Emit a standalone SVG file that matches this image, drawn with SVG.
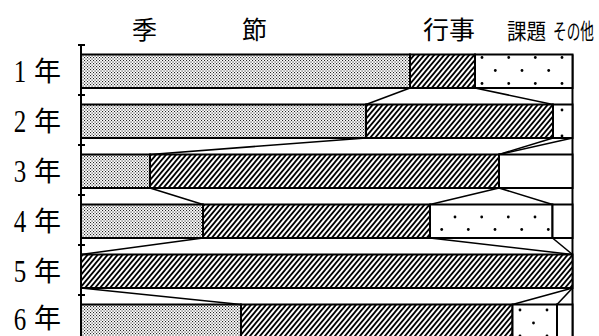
<svg xmlns="http://www.w3.org/2000/svg" width="599" height="336" viewBox="0 0 599 336">
<style>
.seg{stroke:#000;stroke-width:2}
.stip{fill:url(#stip)}
.hatch{fill:url(#hatch)}
.plain{fill:#fff}
.dot{fill:#000}
.con line{stroke:#000;stroke-width:1.6}
.axis{stroke:#000;stroke-width:2;fill:none}
.hd{font-family:"Noto Sans CJK JP",sans-serif;fill:#000}
.num{font-family:"Liberation Serif",serif;font-size:32px;text-anchor:middle;fill:#000}
.nen{font-family:"Noto Sans CJK JP",sans-serif;font-size:27px;text-anchor:middle;fill:#000}
</style>
<defs>
<pattern id="stip" width="3" height="3" patternUnits="userSpaceOnUse">
<rect width="3" height="3" fill="#fff"/>
<rect x="0" y="0" width="1.1" height="1.1" fill="#222"/>
<rect x="1.5" y="1.5" width="1.1" height="1.1" fill="#222"/>
</pattern>
<pattern id="hatch" width="5" height="6" patternUnits="userSpaceOnUse">
<rect width="5" height="6" fill="#fff"/>
<path d="M0,6 L5,0 M-1,1.2 L1,-1.2 M4,7.2 L6,4.8" stroke="#000" stroke-width="1.8"/>
</pattern>
</defs>
<rect width="599" height="336" fill="#fff"/>

<g id="headers">
<text class="hd" x="144.5" y="39" font-size="25" text-anchor="middle">季</text>
<text class="hd" x="254.5" y="39" font-size="25" text-anchor="middle">節</text>
<text class="hd" font-size="25" transform="translate(423,39) scale(1.04,1)">行事</text>
<text class="hd" font-size="22" transform="translate(507,38.5) scale(0.89,1)">課題</text>
<text class="hd" font-size="22" transform="translate(553,38.5) scale(0.62,1)">その他</text>
</g>

<g id="axis">
<line class="axis" x1="81" y1="45" x2="81" y2="338"/>
<line class="axis" x1="572.5" y1="54.5" x2="572.5" y2="338"/>
<path class="axis" d="M78,45H85M78,95H85M78,145H85M78,195H85M78,245H85M78,295H85"/>
</g>

<g id="year1">
<text class="num" transform="translate(20,82) scale(0.78,1)">1</text>
<text class="nen" x="47.5" y="81">年</text>
<rect class="seg stip" x="81" y="54.5" width="329" height="33.5"/>
<rect class="seg hatch" x="410" y="54.5" width="65" height="33.5"/>
<rect class="seg plain" x="475" y="54.5" width="97.5" height="33.5"/>
<g class="dot">
<circle cx="482" cy="57.5" r="1.4"/><circle cx="508.7" cy="57.5" r="1.4"/><circle cx="535.3" cy="57.5" r="1.4"/><circle cx="562" cy="57.5" r="1.4"/>
<circle cx="495.3" cy="70.5" r="1.4"/><circle cx="522" cy="70.5" r="1.4"/><circle cx="548.7" cy="70.5" r="1.4"/>
<circle cx="482" cy="83.5" r="1.4"/><circle cx="508.7" cy="83.5" r="1.4"/><circle cx="535.3" cy="83.5" r="1.4"/><circle cx="562" cy="83.5" r="1.4"/>
</g>
</g>

<g id="year2">
<text class="num" transform="translate(20,132) scale(0.78,1)">2</text>
<text class="nen" x="47.5" y="131">年</text>
<rect class="seg stip" x="81" y="104.5" width="285" height="33.5"/>
<rect class="seg hatch" x="366" y="104.5" width="187" height="33.5"/>
<rect class="seg plain" x="553" y="104.5" width="19.5" height="33.5"/>
<g class="dot">
<circle cx="562" cy="110" r="1.4"/><circle cx="562" cy="136" r="1.4"/>
</g>
</g>

<g id="year3">
<text class="num" transform="translate(20,182) scale(0.78,1)">3</text>
<text class="nen" x="47.5" y="181">年</text>
<rect class="seg stip" x="81" y="154.5" width="69" height="33.5"/>
<rect class="seg hatch" x="150" y="154.5" width="349" height="33.5"/>
<rect class="seg plain" x="499" y="154.5" width="73.5" height="33.5"/>
</g>

<g id="year4">
<text class="num" transform="translate(20,232) scale(0.78,1)">4</text>
<text class="nen" x="47.5" y="231">年</text>
<rect class="seg stip" x="81" y="204.5" width="122" height="33.5"/>
<rect class="seg hatch" x="203" y="204.5" width="227" height="33.5"/>
<rect class="seg plain" x="430" y="204.5" width="122.5" height="33.5"/>
<rect class="seg plain" x="552.5" y="204.5" width="20" height="33.5"/>
<g class="dot">
<circle cx="455" cy="217" r="1.4"/><circle cx="481.7" cy="217" r="1.4"/><circle cx="508.3" cy="217" r="1.4"/><circle cx="535" cy="217" r="1.4"/>
<circle cx="441.7" cy="229.5" r="1.4"/><circle cx="468.3" cy="229.5" r="1.4"/><circle cx="495" cy="229.5" r="1.4"/><circle cx="521.7" cy="229.5" r="1.4"/><circle cx="548.3" cy="229.5" r="1.4"/>
</g>
</g>

<g id="year5">
<text class="num" transform="translate(20,282) scale(0.78,1)">5</text>
<text class="nen" x="47.5" y="281">年</text>
<rect class="seg hatch" x="81" y="254.5" width="491.5" height="33.5"/>
</g>

<g id="year6">
<text class="num" transform="translate(20,329.5) scale(0.78,1)">6</text>
<text class="nen" x="47.5" y="328">年</text>
<rect class="seg stip" x="81" y="304.5" width="160" height="34"/>
<rect class="seg hatch" x="241" y="304.5" width="271.5" height="34"/>
<rect class="seg plain" x="512.5" y="304.5" width="44.5" height="34"/>
<rect class="seg plain" x="557" y="304.5" width="15.5" height="34"/>
<g class="dot">
<circle cx="520" cy="310" r="1.4"/><circle cx="547" cy="310" r="1.4"/>
<circle cx="533.5" cy="323" r="1.4"/>
<circle cx="520" cy="336" r="1.4"/><circle cx="547" cy="336" r="1.4"/>
</g>
</g>

<g id="connectors" class="con">
<line x1="410" y1="88" x2="366" y2="104.5"/>
<line x1="475" y1="88" x2="553" y2="104.5"/>
<line x1="366" y1="138" x2="150" y2="154.5"/>
<line x1="553" y1="138" x2="499" y2="154.5"/>
<line x1="572.5" y1="138" x2="499" y2="154.5"/>
<line x1="150" y1="188" x2="203" y2="204.5"/>
<line x1="499" y1="188" x2="430" y2="204.5"/>
<line x1="499" y1="188" x2="552.5" y2="204.5"/>
<line x1="203" y1="238" x2="81" y2="254.5"/>
<line x1="430" y1="238" x2="572.5" y2="254.5"/>
<line x1="552.5" y1="238" x2="572.5" y2="254.5"/>
<line x1="81" y1="288" x2="241" y2="304.5"/>
<line x1="572.5" y1="288" x2="512.5" y2="304.5"/>
<line x1="572.5" y1="288" x2="557" y2="304.5"/>
</g>
</svg>
